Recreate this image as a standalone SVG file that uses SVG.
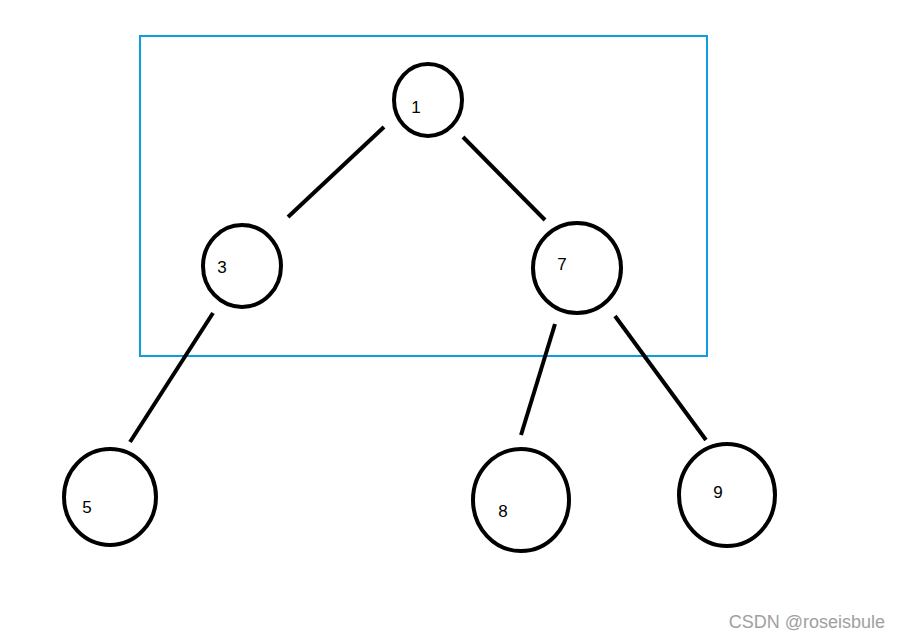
<svg xmlns="http://www.w3.org/2000/svg" width="900" height="639" viewBox="0 0 900 639">
<style>
.node ellipse{fill:none;stroke:#000;stroke-width:4}
.node text{font-family:"Liberation Sans","DejaVu Sans",sans-serif;font-size:17px;fill:#000;text-anchor:middle}
#edges line{stroke:#000;stroke-width:4}
</style>
<rect width="900" height="639" fill="#fff"/>
<rect id="frame" x="140" y="36" width="567" height="320" fill="none" stroke="#0c9ee0" stroke-width="2"/>
<g id="edges">
<line x1="384" y1="127" x2="288" y2="217"/>
<line x1="463" y1="137" x2="545" y2="220"/>
<line x1="213" y1="313" x2="130" y2="442"/>
<line x1="555" y1="324" x2="521" y2="435"/>
<line x1="615" y1="316" x2="706" y2="440"/>
</g>
<g id="n1" class="node"><ellipse cx="428" cy="100" rx="34" ry="36"/><text x="416" y="113">1</text></g>
<g id="n3" class="node"><ellipse cx="242" cy="266" rx="39" ry="41"/><text x="222" y="273">3</text></g>
<g id="n7" class="node"><ellipse cx="577" cy="268" rx="44" ry="45"/><text x="562" y="270">7</text></g>
<g id="n5" class="node"><ellipse cx="110" cy="497" rx="46" ry="48"/><text x="87" y="513">5</text></g>
<g id="n8" class="node"><ellipse cx="521" cy="500" rx="48" ry="51"/><text x="503" y="517">8</text></g>
<g id="n9" class="node"><ellipse cx="727" cy="495" rx="48" ry="51"/><text x="718" y="498">9</text></g>
<text x="885" y="628" font-family="Liberation Sans, Arial, sans-serif" font-size="18" fill="#a0a0a0" text-anchor="end">CSDN @roseisbule</text>
</svg>
